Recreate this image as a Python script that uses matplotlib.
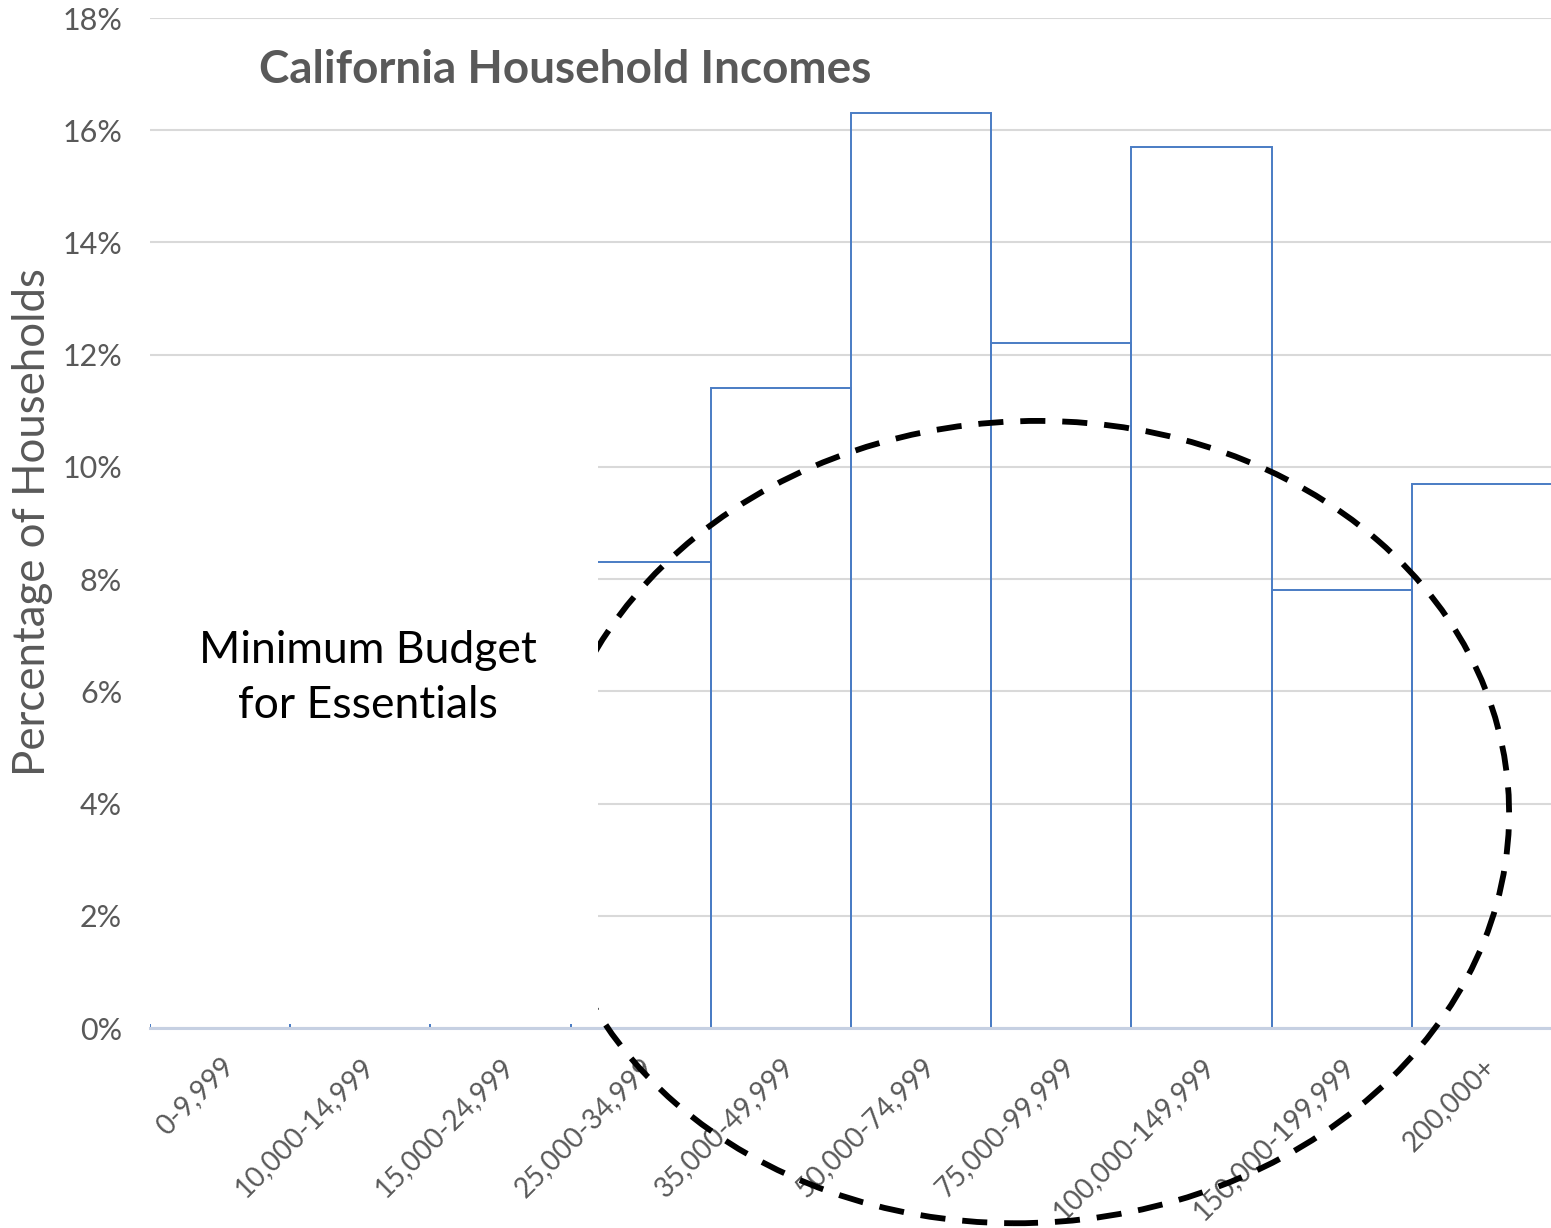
import matplotlib
matplotlib.use("Agg")
import matplotlib.pyplot as plt
from matplotlib.patches import Ellipse, Rectangle
import numpy as np

plt.rcParams['font.family'] = ['Lato', 'DejaVu Sans']

# household income brackets and share of households (%)
brackets = ["0-9,999", "10,000-14,999", "15,000-24,999", "25,000-34,999",
            "35,000-49,999", "50,000-74,999", "75,000-99,999",
            "100,000-149,999", "150,000-199,999", "200,000+"]
# first three sit behind the white label box in the picture
shares = [5.6, 4.6, 8.4, 8.3, 11.4, 16.3, 12.2, 15.7, 7.8, 9.7]
yticks = [0, 2, 4, 6, 8, 10, 12, 14, 16, 18]

GRAY = "#595959"
BLUE = "#4a7cc4"


def main():
    fig = plt.figure(figsize=(15.51, 12.28), dpi=100)
    ax = fig.add_axes([150 / 1551, 200 / 1228, 1402 / 1551, 1010 / 1228])

    x = np.arange(len(brackets))
    ax.bar(x, shares, width=1.0, fill=False, edgecolor=BLUE, linewidth=1.4, zorder=1)

    ax.set_xlim(-0.5, len(brackets) - 0.5)
    ax.set_ylim(0, 18)
    ax.set_yticks(yticks)
    ax.set_yticklabels([f"{t}%" for t in yticks])
    ax.set_xticks(x)
    ax.set_xticklabels(brackets, rotation=45, ha="right", rotation_mode="anchor")
    ax.tick_params(axis="both", length=0, labelcolor=GRAY)
    ax.tick_params(axis="x", pad=18, labelsize=20)
    ax.tick_params(axis="y", pad=20, labelsize=22)

    ax.set_axisbelow(True)
    ax.yaxis.grid(True, color="#d9d9d9", linewidth=1.5)
    for side in ["left", "right", "top"]:
        ax.spines[side].set_visible(False)
    ax.spines["bottom"].set_color("#c6d0e2")
    ax.spines["bottom"].set_linewidth(2.2)

    # dashed ellipse drawn over the bars
    ell = Ellipse((5.755, 3.67), 6.876, 14.3, angle=-0.8, fill=False,
                  edgecolor="black", linewidth=4.2, linestyle=(0, (4.3, 2.9)),
                  clip_on=False, zorder=3)
    ax.add_patch(ell)

    # white box that hides the low brackets
    box = Rectangle((-0.6, 0.07), 3.295, 10.9, facecolor="white",
                    edgecolor="none", zorder=3.5)
    ax.add_patch(box)

    fig.text(565 / 1551, 1 - 70 / 1228, "California Household Incomes",
             ha="center", va="center", fontsize=33, fontweight="bold", color=GRAY)
    fig.text(33 / 1551, 1 - 522 / 1228, "Percentage of Households", rotation=90,
             ha="center", va="center", fontsize=31.5, color=GRAY)
    fig.text(368 / 1551, 1 - 678 / 1228, "Minimum Budget\nfor Essentials",
             ha="center", va="center", fontsize=32, color="black",
             multialignment="center", linespacing=1.4, zorder=5)

    fig.savefig("out.png", dpi=100)


if __name__ == "__main__":
    main()
